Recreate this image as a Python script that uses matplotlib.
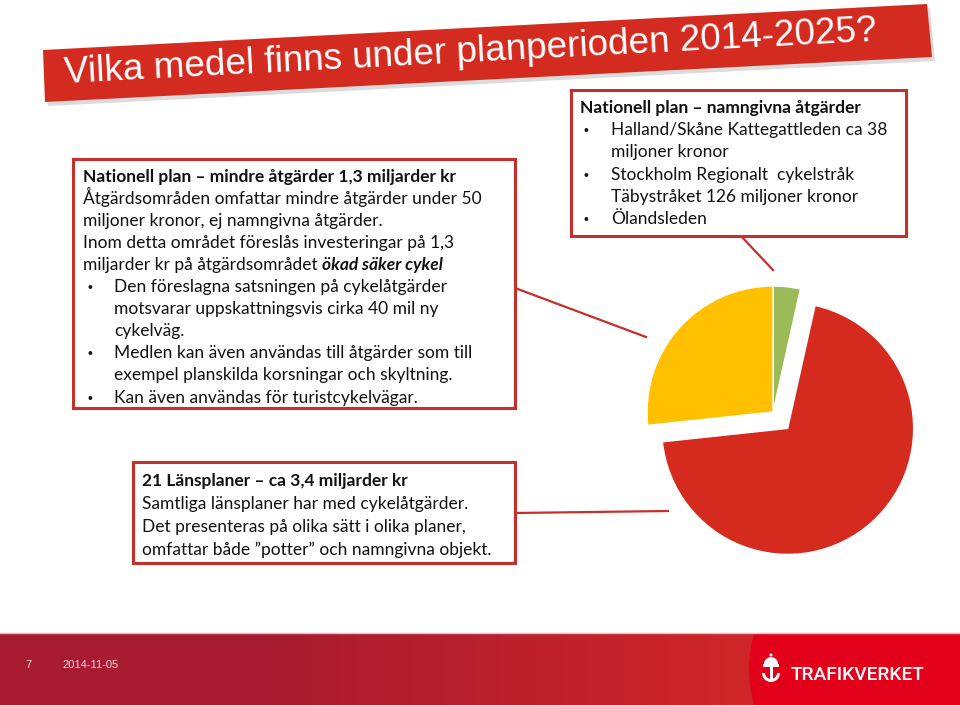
import matplotlib
matplotlib.use('Agg')
import matplotlib.pyplot as plt
import numpy as np
from matplotlib.patches import Polygon, Rectangle, Wedge, Circle

# pie data, miljarder kr
delar = ['Nationell plan – namngivna åtgärder', '21 Länsplaner', 'Nationell plan – mindre åtgärder']
belopp = [0.17, 3.4, 1.3]
farger = ['#9bbb59', '#d52b1e', '#ffc000']

titel = 'Vilka medel finns under planperioden 2014-2025?'

vanster_rubrik = 'Nationell plan – mindre åtgärder 1,3 miljarder kr'
vanster_rader = ['Åtgärdsområden omfattar mindre åtgärder under 50',
                 'miljoner kronor, ej namngivna åtgärder.',
                 'Inom detta området föreslås investeringar på 1,3']
vanster_sista = ('miljarder kr på åtgärdsområdet ', 'ökad säker cykel')
vanster_punkter = [['Den föreslagna satsningen på cykelåtgärder',
                    'motsvarar uppskattningsvis cirka 40 mil ny',
                    'cykelväg.'],
                   ['Medlen kan även användas till åtgärder som till',
                    'exempel planskilda korsningar och skyltning.'],
                   ['Kan även användas för turistcykelvägar.']]

hoger_rubrik = 'Nationell plan – namngivna åtgärder'
hoger_punkter = [['Halland/Skåne Kattegattleden ca 38', 'miljoner kronor'],
                 ['Stockholm Regionalt  cykelstråk', 'Täbystråket 126 miljoner kronor'],
                 ['Ölandsleden']]

lan_rubrik = '21 Länsplaner – ca 3,4 miljarder kr'
lan_rader = ['Samtliga länsplaner har med cykelåtgärder.',
             'Det presenteras på olika sätt i olika planer,',
             'omfattar både ”potter” och namngivna objekt.']

sidnr = '7'
datum = '2014-11-05'

W, H = 960, 705
def Y(y):
    return H - y

fig = plt.figure(figsize=(9.6, 7.05), dpi=100)
ax = fig.add_axes([0, 0, 1, 1])

ax.pie(belopp, colors=farger, startangle=90, counterclock=False,
       explode=[0, 22, 0], radius=126, center=(773, Y(412)),
       wedgeprops=dict(edgecolor='white', linewidth=1))
ax.set_xlim(0, W)
ax.set_ylim(0, H)

# title banner
banner = [(43, 50), (927, 4), (932, 57), (45, 102)]
skugga = [(x + 3, y + 4) for x, y in banner]
ax.add_patch(Polygon([(x, Y(y)) for x, y in skugga], closed=True, fc='#999999', ec='none', alpha=0.35, zorder=2))
ax.add_patch(Polygon([(x, Y(y)) for x, y in banner], closed=True, fc='#d42b20', ec='none', zorder=3))
ax.text(65, Y(83), titel, rotation=np.degrees(np.arctan2(46, 884)), rotation_mode='anchor',
        ha='left', va='baseline', color='white', fontsize=26.6, family='Liberation Sans', zorder=4)

kant = '#c62f2b'
font = 'Lato'
fs = 12.5
svart = '#111111'

def ruta(x0, y0, x1, y1):
    ax.add_patch(Rectangle((x0, Y(y1)), x1 - x0, y1 - y0, fc='white', ec=kant, lw=2.2, zorder=5))

def punkt_tecken(x, y):
    ax.text(x, y, '•', family='Liberation Sans', fontsize=10, color=svart, va='baseline', zorder=6)

# connector lines
ax.plot([515, 646], [Y(288), Y(337)], color=kant, lw=1.6, zorder=4)
ax.plot([515, 668], [Y(513), Y(511)], color=kant, lw=1.6, zorder=4)
ax.plot([740, 773], [Y(235), Y(270)], color=kant, lw=1.6, zorder=4)

# left box
ruta(73, 159, 515, 408)
rad = 22.05
yb = 182
ax.text(83, Y(yb), vanster_rubrik, family=font, fontsize=fs, weight='bold', color=svart, va='baseline', zorder=6)
for i, t in enumerate(vanster_rader):
    ax.text(83, Y(yb + rad * (i + 1)), t, family=font, fontsize=fs, color=svart, va='baseline', zorder=6)
n = len(vanster_rader) + 1
t1 = ax.text(83, Y(yb + rad * n), vanster_sista[0], family=font, fontsize=fs, color=svart, va='baseline', zorder=6)
r = fig.canvas.get_renderer()
bredd = t1.get_window_extent(r).width
ax.text(83 + bredd, Y(yb + rad * n), vanster_sista[1], family=font, fontsize=fs, weight='bold', style='italic',
        color=svart, va='baseline', zorder=6)
n += 1
for punkt in vanster_punkter:
    punkt_tecken(88, Y(yb + rad * n))
    for t in punkt:
        ax.text(114, Y(yb + rad * n), t, family=font, fontsize=fs, color=svart, va='baseline', zorder=6)
        n += 1

# right box
ruta(571, 90, 906, 236)
yb = 113
rad = 22.2
ax.text(580, Y(yb), hoger_rubrik, family=font, fontsize=fs, weight='bold', color=svart, va='baseline', zorder=6)
n = 1
for punkt in hoger_punkter:
    punkt_tecken(584, Y(yb + rad * n))
    for t in punkt:
        ax.text(611, Y(yb + rad * n), t, family=font, fontsize=fs, color=svart, va='baseline', zorder=6)
        n += 1

# bottom box
ruta(133, 462, 515, 563)
yb = 486
rad = 23
ax.text(142, Y(yb), lan_rubrik, family=font, fontsize=fs, weight='bold', color=svart, va='baseline', zorder=6)
for i, t in enumerate(lan_rader):
    ax.text(142, Y(yb + rad * (i + 1)), t, family=font, fontsize=fs, color=svart, va='baseline', zorder=6)

# footer
xs = np.linspace(0, 1, 400)
c0 = np.array([0xa8, 0x1b, 0x30]) / 255
c1 = np.array([0xd0, 0x26, 0x28]) / 255
vikt = np.clip((xs - 0.35) / 0.65, 0, 1)[:, None]
grad = (c0 * (1 - vikt) + c1 * vikt)[None, :, :]
ax.imshow(grad, extent=[0, 760, 0, Y(633)], aspect='auto', zorder=1)
kurva_y = np.linspace(633, 705, 30)
kurva_x = 754 - 5 * np.sin(np.pi * (kurva_y - 633) / 72)
pts = [(960, Y(633))] + [(x, Y(y)) for x, y in zip(kurva_x, kurva_y)] + [(960, 0)]
ax.add_patch(Polygon(pts, closed=True, fc='#e2001a', ec='none', zorder=2))
ax.plot([0, 960], [Y(633), Y(633)], color='#e9b9bd', lw=1, zorder=3)
ax.text(25, Y(668), sidnr, color='#f3d6da', fontsize=8, family='Liberation Sans', va='baseline', zorder=4)
ax.text(62, Y(668), datum, color='#f3d6da', fontsize=8, family='Liberation Sans', va='baseline', zorder=4)

# logo
ax.add_patch(Wedge((771, Y(673)), 9, 180, 360, width=3, fc='white', ec='none', zorder=4))
ax.add_patch(Rectangle((763, Y(667)), 16, 3, fc='white', ec='none', zorder=4))
ax.add_patch(Rectangle((769.5, Y(680)), 3, 13, fc='white', ec='none', zorder=4))
ax.add_patch(Wedge((771, Y(664)), 7, 0, 180, fc='white', ec='none', zorder=4))
ax.add_patch(Circle((771, Y(655)), 1.5, fc='white', ec='none', zorder=4))
ax.text(791, Y(680), 'TRAFIKVERKET', color='white', fontsize=13.8, family='Roboto', weight='medium',
        va='baseline', zorder=4)

ax.set_xlim(0, W)
ax.set_ylim(0, H)
ax.axis('off')
fig.savefig('out.png', dpi=100, facecolor='white')
